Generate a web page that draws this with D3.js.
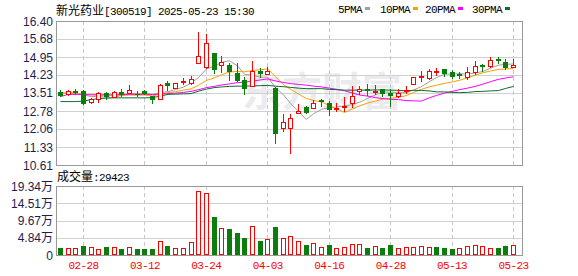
<!DOCTYPE html>
<html><head><meta charset="utf-8">
<script src="https://cdn.jsdelivr.net/npm/d3@7"></script>
<style>body{margin:0;background:#fff}svg{display:block}</style>
</head><body><svg id="c" width="578" height="276"></svg>
<script>
const dates = ["02-25","02-26","02-27","02-28","03-03","03-04","03-05","03-06","03-07","03-10","03-11","03-12","03-13","03-14","03-17","03-18","03-19","03-20","03-21","03-24","03-25","03-26","03-27","03-28","03-31","04-01","04-02","04-03","04-07","04-08","04-09","04-10","04-11","04-14","04-15","04-16","04-17","04-18","04-21","04-22","04-23","04-24","04-25","04-28","04-29","04-30","05-06","05-07","05-08","05-09","05-12","05-13","05-14","05-15","05-16","05-19","05-20","05-21","05-22","05-23"];
const open = [13.56,13.46,13.57,13.59,13.14,13.28,13.51,13.33,13.56,13.52,13.48,13.60,13.38,13.28,13.90,13.72,13.94,13.92,14.70,14.56,15.10,14.62,14.63,14.32,14.03,13.79,14.40,14.26,13.69,12.11,12.11,12.72,12.93,12.92,13.22,13.12,12.87,12.93,13.09,13.60,13.65,13.55,13.67,13.52,13.38,13.58,13.86,14.14,14.12,14.35,14.46,14.34,14.25,14.14,14.34,14.65,14.60,14.86,14.74,14.56];
const high = [13.63,13.61,13.65,13.61,13.30,13.55,13.53,13.60,13.65,13.83,13.59,13.62,13.40,13.85,13.97,13.92,14.11,14.19,15.95,15.87,15.13,15.00,14.72,14.70,14.13,14.79,14.52,14.57,13.76,12.66,12.68,13.06,12.98,13.24,13.26,13.18,13.10,13.33,13.78,13.79,13.85,13.83,13.67,13.65,13.65,13.79,14.16,14.39,14.47,14.53,14.46,14.43,14.35,14.55,14.80,14.67,14.96,14.95,14.87,14.87];
const low = [13.38,13.44,13.46,13.05,13.12,13.14,13.28,13.33,13.40,13.52,13.38,13.48,13.10,13.26,13.63,13.70,13.87,13.85,14.70,14.52,14.30,14.36,14.03,14.00,13.46,13.79,14.16,14.26,11.51,11.97,11.10,12.69,12.70,12.92,12.98,12.62,12.78,12.79,12.94,13.46,13.44,13.46,13.37,12.98,13.34,13.52,13.86,13.97,14.05,14.23,14.20,14.12,14.12,14.06,14.26,14.37,14.56,14.70,14.47,14.56];
const close = [13.43,13.57,13.54,13.10,13.26,13.49,13.37,13.56,13.47,13.63,13.45,13.50,13.28,13.83,13.82,13.90,13.97,14.07,14.99,15.50,14.46,14.76,14.39,14.03,13.69,14.39,14.30,14.39,11.91,12.35,12.51,12.80,12.74,13.12,13.18,12.85,12.91,12.98,13.38,13.66,13.62,13.60,13.52,13.42,13.52,13.63,14.14,14.19,14.39,14.39,14.30,14.20,14.21,14.34,14.59,14.61,14.83,14.82,14.56,14.63];
const volume = [2.05,1.87,1.87,2.62,2.24,1.68,2.24,2.24,1.78,2.15,1.68,1.68,1.68,3.83,2.62,1.96,1.96,3.55,17.94,17.29,10.65,7.57,7.29,6.26,4.86,8.03,3.92,4.48,7.94,4.76,5.33,3.92,2.80,3.36,2.24,2.80,1.96,2.24,3.00,3.00,1.96,2.52,1.96,2.80,1.96,2.24,2.24,2.52,2.24,2.24,1.96,1.68,1.96,2.52,2.80,2.52,1.96,1.96,2.52,2.94];
const volUp = [0,1,1,0,1,1,0,1,0,1,0,0,0,1,0,1,1,1,1,1,0,1,0,0,0,1,0,1,0,1,1,1,0,1,1,0,1,1,1,1,0,1,0,0,1,1,1,1,1,0,0,0,1,1,1,1,1,0,0,1];
const ma5 = [13.50,13.52,13.53,13.45,13.38,13.39,13.35,13.36,13.43,13.50,13.50,13.52,13.47,13.54,13.58,13.67,13.76,13.92,14.15,14.49,14.60,14.76,14.82,14.63,14.27,14.25,14.16,14.16,13.74,13.47,13.09,12.79,12.46,12.70,12.87,12.94,12.96,13.01,13.06,13.16,13.31,13.45,13.56,13.56,13.54,13.54,13.65,13.78,13.97,14.15,14.28,14.29,14.30,14.29,14.33,14.39,14.52,14.64,14.68,14.69];
const ma10 = [13.53,13.53,13.52,13.48,13.46,13.45,13.44,13.44,13.43,13.44,13.44,13.44,13.41,13.48,13.54,13.58,13.64,13.69,13.84,14.03,14.13,14.26,14.37,14.39,14.38,14.43,14.46,14.49,14.18,13.87,13.67,13.48,13.31,13.22,13.17,13.02,12.88,12.74,12.88,13.01,13.12,13.20,13.28,13.31,13.35,13.42,13.55,13.67,13.77,13.84,13.91,13.97,14.04,14.13,14.24,14.34,14.41,14.47,14.49,14.51];
const ma20 = [13.38,13.47,13.47,13.46,13.45,13.45,13.45,13.45,13.46,13.47,13.47,13.47,13.46,13.48,13.50,13.52,13.55,13.59,13.66,13.74,13.79,13.85,13.89,13.94,13.96,14.00,14.05,14.09,14.01,13.95,13.90,13.87,13.84,13.80,13.77,13.72,13.67,13.61,13.53,13.44,13.40,13.34,13.30,13.27,13.26,13.22,13.21,13.20,13.33,13.43,13.52,13.59,13.66,13.72,13.79,13.88,13.98,14.07,14.13,14.18];
const ma30 = [13.18,13.18,13.18,13.20,13.26,13.30,13.32,13.33,13.33,13.33,13.33,13.33,13.34,13.40,13.47,13.48,13.49,13.50,13.60,13.68,13.74,13.77,13.79,13.80,13.80,13.81,13.82,13.83,13.80,13.78,13.75,13.72,13.70,13.70,13.70,13.67,13.66,13.64,13.64,13.64,13.64,13.65,13.65,13.64,13.63,13.62,13.63,13.63,13.61,13.57,13.57,13.55,13.54,13.55,13.58,13.59,13.61,13.62,13.71,13.79];
const priceTicks = [16.40,15.68,14.95,14.23,13.51,12.78,12.06,11.33,10.61];
const volTicks = [0,4.835,9.67,14.505,19.34];
const volTickLabels = ["0","4.84万","9.67万","14.51万","19.34万"];
const dateTicks = ["02-28","03-12","03-24","04-03","04-16","04-28","05-13","05-23"];
const maNames = ["5PMA","10PMA","20PMA","30PMA"];
const maColors = ["#a0a0a0","#f5a300","#ff00ff","#0a6e2e"];
const titleName = "新光药业";
const titleRest = "[300519] 2025-05-23 15:30";
const volTitle = "成交量";
const lastVol = "29423";

const UP = "#ff0000", DOWN = "#0a7d0a";
const svg = d3.select("#c");
const L = 56, R = 522, PT = 21, PB = 165, VT = 186, VB = 255;

const x = d3.scalePoint().domain(dates).range([60, 513]);
const y = d3.scaleLinear().domain([10.61, 16.40]).range([PB, PT]);
const yv = d3.scaleLinear().domain([0, 19.34]).range([VB, VT]);
const px = d => Math.round(x(d));
const py = v => Math.round(y(v));

// watermark
svg.append("text").attr("x", 242).attr("y", 106).attr("font-family", "Noto Sans CJK SC")
  .attr("font-weight", "bold").attr("font-size", 40).attr("fill", "#ebebef").text("东方财富");

// grids
const g = svg.append("g");
priceTicks.slice(1, -1).forEach(t => {
  g.append("line").attr("x1", L).attr("x2", R).attr("y1", py(t) + 0.5).attr("y2", py(t) + 0.5)
    .attr("stroke", "#d0d0d0");
});
volTicks.slice(1, -1).forEach(t => {
  const yy = Math.round(yv(t)) + 0.5;
  g.append("line").attr("x1", L).attr("x2", R).attr("y1", yy).attr("y2", yy).attr("stroke", "#d0d0d0");
});
dateTicks.forEach(d => {
  const xx = px(d) + 0.5;
  [[PT, PB], [VT, VB]].forEach(([a, b]) => {
    g.append("line").attr("x1", xx).attr("x2", xx).attr("y1", a).attr("y2", b)
      .attr("stroke", "#c8c8c8").attr("stroke-dasharray", "4,3");
  });
});

// frames
svg.append("rect").attr("x", L + 0.5).attr("y", PT + 0.5).attr("width", R - L).attr("height", PB - PT)
  .attr("fill", "none").attr("stroke", "#999");
svg.append("rect").attr("x", L + 0.5).attr("y", VT + 0.5).attr("width", R - L).attr("height", VB - VT)
  .attr("fill", "none").attr("stroke", "#999");

// MA lines
[ma5, ma10, ma20, ma30].forEach((arr, k) => {
  const line = d3.line().x((v, i) => x(dates[i]) + 0.5).y(v => y(v) + 0.5);
  svg.append("path").attr("d", line(arr)).attr("fill", "none").attr("stroke", maColors[k]).attr("stroke-width", 1);
});

// candles
const cg = svg.append("g");
dates.forEach((d, i) => {
  const cx = px(d);
  const up = close[i] >= open[i];
  const col = up ? UP : DOWN;
  cg.append("line").attr("x1", cx + 0.5).attr("x2", cx + 0.5)
    .attr("y1", py(high[i])).attr("y2", py(low[i]) + 1).attr("stroke", col);
  const top = py(Math.max(open[i], close[i])), bot = py(Math.min(open[i], close[i]));
  if (bot - top < 2) {
    cg.append("rect").attr("x", cx - 2).attr("y", top).attr("width", 5).attr("height", Math.max(1, bot - top + 1)).attr("fill", col);
  } else if (up) {
    cg.append("rect").attr("x", cx - 1.5).attr("y", top + 0.5).attr("width", 4).attr("height", bot - top)
      .attr("fill", "#fff").attr("stroke", col);
  } else {
    cg.append("rect").attr("x", cx - 2).attr("y", top).attr("width", 5).attr("height", bot - top + 1).attr("fill", col);
  }
});

// volume bars
dates.forEach((d, i) => {
  const cx = px(d);
  const top = Math.round(yv(volume[i]));
  if (volUp[i]) {
    svg.append("rect").attr("x", cx - 1.5).attr("y", top + 0.5).attr("width", 4).attr("height", VB - top - 1)
      .attr("fill", "#fff").attr("stroke", UP);
  } else {
    svg.append("rect").attr("x", cx - 2).attr("y", top).attr("width", 5).attr("height", VB - top).attr("fill", DOWN);
  }
});

// axis labels
const lab = "#1e1e4e";
priceTicks.forEach(t => {
  svg.append("text").attr("x", 53).attr("y", y(t) + 4.5).attr("text-anchor", "end")
    .attr("font-family", "Liberation Sans, Arial").attr("font-size", 12).attr("fill", lab).text(t.toFixed(2));
});
volTicks.forEach((t, i) => {
  svg.append("text").attr("x", 53).attr("y", yv(t) + 4.5).attr("text-anchor", "end")
    .attr("font-family", "Liberation Sans, Noto Sans CJK SC").attr("font-size", 12).attr("fill", lab).text(volTickLabels[i]);
});
dateTicks.forEach(d => {
  svg.append("text").attr("x", x(d) + 0.5).attr("y", 269).attr("text-anchor", "middle")
    .attr("font-family", "Liberation Mono, monospace").attr("font-size", 11).attr("letter-spacing", -0.6)
    .attr("fill", "#f00").text(d);
});

// title
const tt = svg.append("text").attr("x", 56).attr("y", 15).attr("fill", "#000");
tt.append("tspan").attr("font-family", "Noto Sans CJK SC").attr("font-size", 12).text(titleName);
tt.append("tspan").attr("font-family", "Liberation Mono, monospace").attr("font-size", 11).attr("letter-spacing", -0.6).text(titleRest);

// legend
const legX = [338, 380, 425, 472];
maNames.forEach((n, k) => {
  const t = svg.append("text").attr("x", legX[k]).attr("y", 12.5).attr("font-family", "Liberation Mono, monospace")
    .attr("font-size", 11).attr("letter-spacing", -0.6).attr("fill", "#000").text(n);
  const w = n.length * 6;
  svg.append("rect").attr("x", legX[k] + w + 3).attr("y", 7).attr("width", 5).attr("height", 3).attr("fill", maColors[k]);
});

// volume title
const vt = svg.append("text").attr("x", 57).attr("y", 181).attr("fill", "#000");
vt.append("tspan").attr("font-family", "Noto Sans CJK SC").attr("font-size", 12).text(volTitle);
vt.append("tspan").attr("font-family", "Liberation Mono, monospace").attr("font-size", 11).attr("letter-spacing", -0.6).text(":" + lastVol);
</script></body></html>
